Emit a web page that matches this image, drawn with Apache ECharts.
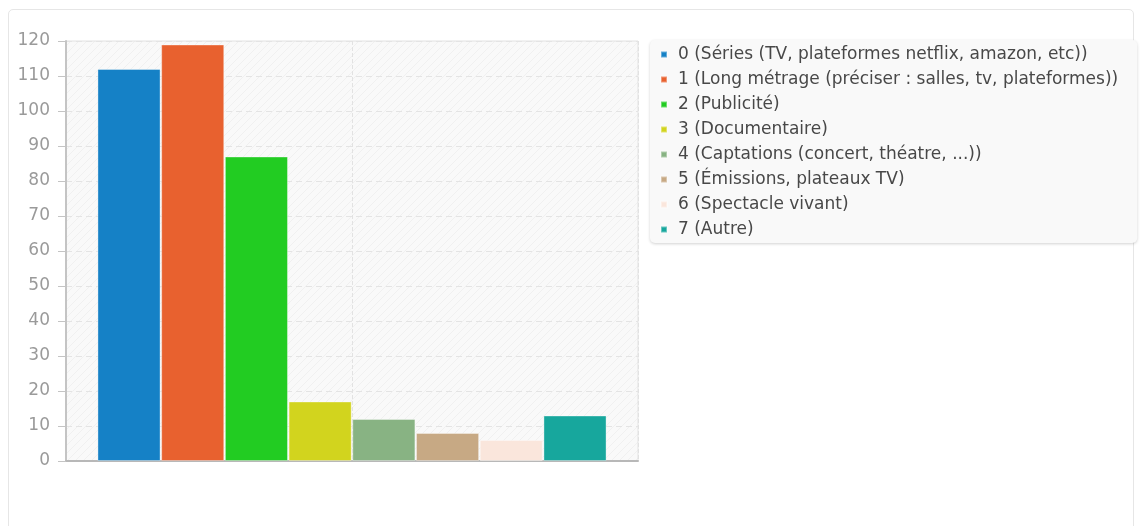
<!DOCTYPE html>
<html><head><meta charset="utf-8">
<script src="https://cdn.jsdelivr.net/npm/echarts@6/dist/echarts.min.js"></script>
<style>
html,body{margin:0;padding:0;background:#fff;width:1141px;height:526px;overflow:hidden;}
#card{position:absolute;left:8px;top:9px;width:1126px;height:540px;border:1px solid #e6e6e6;border-radius:5px;box-sizing:border-box;}
#c{position:absolute;left:0;top:0;width:1141px;height:526px;}
</style></head>
<body><div id="card"></div><div id="c"></div>
<script>
const seriesNames = [
  "0 (Séries (TV, plateformes netflix, amazon, etc))",
  "1 (Long métrage (préciser : salles, tv, plateformes))",
  "2 (Publicité)",
  "3 (Documentaire)",
  "4 (Captations (concert, théatre, ...))",
  "5 (Émissions, plateaux TV)",
  "6 (Spectacle vivant)",
  "7 (Autre)"
];
const seriesValues = [112, 119, 87, 17, 12, 8, 6, 13];
const seriesColors = ["#1581c6", "#e8612f", "#22cc22", "#d2d41e", "#88b383", "#c7a984", "#fae6dc", "#17a79d"];
const yTicks = [0, 10, 20, 30, 40, 50, 60, 70, 80, 90, 100, 110, 120];

// hatched background pattern
const pc = document.createElement('canvas');
pc.width = 8; pc.height = 8;
const pctx = pc.getContext('2d');
pctx.fillStyle = '#f9f9f9'; pctx.fillRect(0,0,8,8);
pctx.strokeStyle = '#f0f0f0'; pctx.lineWidth = 1;
pctx.beginPath(); pctx.moveTo(0,8); pctx.lineTo(8,0); pctx.moveTo(-4,4); pctx.lineTo(4,-4); pctx.moveTo(4,12); pctx.lineTo(12,4); pctx.stroke();

const chart = echarts.init(document.getElementById('c'), null, {renderer:'canvas'});
chart.setOption({
  animation: false,
  textStyle: {fontFamily: 'DejaVu Sans'},
  grid: {left: 66, right: 503, top: 41, bottom: 65, show: true, backgroundColor: {image: pc, repeat: 'repeat'}, borderColor: '#e2e2e2', borderWidth: 1},
  legend: {
    orient: 'vertical', left: 650, top: 40,
    padding: [6, 19, 5, 10],
    backgroundColor: '#f9f9f9', borderRadius: 5,
    shadowColor: 'rgba(0,0,0,0.18)', shadowBlur: 3, shadowOffsetY: 1,
    icon: 'rect', itemWidth: 6, itemHeight: 6, itemGap: 8,
    textStyle: {fontSize: 17, color: '#484848', fontFamily: 'DejaVu Sans', padding: [0, 0, 0, 6]},
    data: seriesNames
  },
  xAxis: [
    {type: 'category', data: [''], axisLine: {lineStyle: {color: '#b8b8b8', width: 2}}, axisTick: {show: false}, axisLabel: {show: false}, splitLine: {show: false}},
    {type: 'value', min: 0, max: 2, interval: 1, position: 'bottom', axisLine: {show: false}, axisTick: {show: false}, axisLabel: {show: false}, splitLine: {show: true, lineStyle: {color: '#e2e2e2', type: 'dashed'}}}
  ],
  yAxis: {
    type: 'value', min: yTicks[0], max: yTicks[yTicks.length-1], interval: 10,
    axisLine: {show: true, lineStyle: {color: '#c4c4c4', width: 2}},
    axisTick: {show: true, length: 8, lineStyle: {color: '#c4c4c4'}},
    axisLabel: {color: '#9a9a9a', fontSize: 17, margin: 16, fontFamily: 'DejaVu Sans', padding: [4, 0, 0, 0]},
    splitLine: {lineStyle: {color: '#e4e4e4', type: [6, 4]}}
  },
  series: seriesNames.map((n, i) => ({
    name: n, type: 'bar', xAxisIndex: 0, data: [seriesValues[i]],
    barGap: '1%', barCategoryGap: '11%',
    itemStyle: {color: seriesColors[i], borderColor: 'rgba(255,255,255,0.35)', borderWidth: 1}
  }))
});
</script></body></html>
